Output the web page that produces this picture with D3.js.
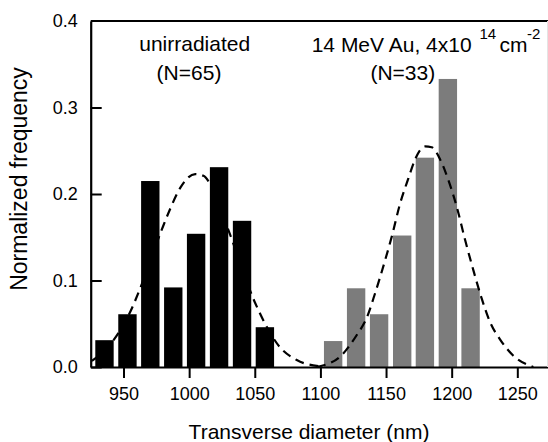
<!DOCTYPE html>
<html>
<head>
<meta charset="utf-8">
<script src="https://cdn.jsdelivr.net/npm/d3@7"></script>
<style>
  body { margin: 0; background: #fff; }
  svg { display: block; font-family: "Liberation Sans", Arial, sans-serif; }
  .tick text { font-size: 18px; fill: #000; }
  .label { font-size: 21px; fill: #000; }
</style>
</head>
<body>
<script>
// bin centres (nm) and normalized frequencies
const unirrCenters = [935.5, 953.0, 970.4, 987.9, 1005.3, 1022.8, 1040.3, 1057.7];
const unirrFreq = [0.031, 0.061, 0.215, 0.092, 0.154, 0.231, 0.169, 0.046];

const irrCenters = [1109.7, 1127.2, 1144.7, 1162.3, 1179.6, 1197.1, 1214.4];
const irrFreq = [0.030, 0.091, 0.061, 0.152, 0.242, 0.333, 0.091];

// dashed fit curves: [nm, frequency]
const unirrFit = [[925.9, 0.007], [942.4, 0.031], [956.4, 0.068], [962.7, 0.091], [979.2, 0.159], [985.6, 0.183], [993.2, 0.207], [1004.6, 0.223], [1010.9, 0.221], [1017.3, 0.208], [1030, 0.158], [1050.3, 0.074], [1057.9, 0.050], [1068, 0.025], [1082, 0.008], [1098.5, 0.001]];
const irrFit = [[1097.3, 0.0], [1115, 0.012], [1127.7, 0.037], [1135.3, 0.057], [1141.6, 0.085], [1149.2, 0.123], [1154.4, 0.151], [1160.7, 0.189], [1167, 0.218], [1172.1, 0.240], [1179.7, 0.255], [1184.8, 0.254], [1191.2, 0.240], [1197.5, 0.216], [1203.9, 0.185], [1210.2, 0.147], [1216.5, 0.112], [1222.9, 0.079], [1229.2, 0.052], [1236.8, 0.032], [1247, 0.013], [1262.2, 0.0]];

const xTicks = [950, 1000, 1050, 1100, 1150, 1200, 1250];
const yTicks = [0.0, 0.1, 0.2, 0.3, 0.4];

const width = 548, height = 442;
const plot = { left: 90.7, right: 547.5, top: 21, bottom: 367 };
const barWidthNm = 14;

const svg = d3.select("body")
  .append("svg")
  .attr("width", width)
  .attr("height", height);

const x = d3.scaleLinear().domain([925, 1273]).range([plot.left, plot.right]);
const y = d3.scaleLinear().domain([0, 0.4]).range([plot.bottom, plot.top]);

// bars
const drawBars = (centers, freqs, color) => {
  svg.append("g")
    .selectAll("rect")
    .data(centers)
    .enter()
    .append("rect")
    .attr("x", (d) => x(d - barWidthNm / 2))
    .attr("y", (d, i) => y(freqs[i]))
    .attr("width", (d) => x(d + barWidthNm / 2) - x(d - barWidthNm / 2))
    .attr("height", (d, i) => y(0) - y(freqs[i]))
    .style("fill", color);
};
drawBars(unirrCenters, unirrFreq, "#000");
drawBars(irrCenters, irrFreq, "#7c7c7c");

// fit curves
const line = d3.line()
  .x((d) => x(d[0]))
  .y((d) => y(d[1]))
  .curve(d3.curveMonotoneX);

[unirrFit, irrFit].forEach((pts) => {
  svg.append("path")
    .attr("d", line(pts))
    .attr("fill", "none")
    .attr("stroke", "#000")
    .attr("stroke-width", 2.2)
    .attr("stroke-dasharray", "9,6");
});

// axes
const xAxis = d3.axisBottom(x)
  .tickValues(xTicks)
  .tickFormat(d3.format("d"))
  .tickSize(11)
  .tickSizeOuter(0)
  .tickPadding(9);

const yAxis = d3.axisLeft(y)
  .tickValues(yTicks)
  .tickFormat(d3.format(".1f"))
  .tickSize(-11)
  .tickSizeOuter(0)
  .tickPadding(13);

const xAxisG = svg.append("g")
  .attr("transform", `translate(0, ${plot.bottom})`)
  .call(xAxis);

const yAxisG = svg.append("g")
  .attr("transform", `translate(${plot.left}, 0)`)
  .call(yAxis);

[xAxisG, yAxisG].forEach((g) => {
  g.select(".domain").attr("stroke", "#000").attr("stroke-width", 2.2);
  g.selectAll(".tick line").attr("stroke", "#000").attr("stroke-width", 2);
  g.selectAll(".tick text").attr("font-family", null).attr("font-size", null);
});
yAxisG.selectAll(".tick").filter((d) => d === 0.4).select("line").remove();

// frame: top line and faint right edge
svg.append("line")
  .attr("x1", plot.left).attr("x2", width)
  .attr("y1", plot.top).attr("y2", plot.top)
  .attr("stroke", "#000").attr("stroke-width", 2.2);
svg.append("line")
  .attr("x1", plot.right).attr("x2", plot.right)
  .attr("y1", plot.top).attr("y2", plot.bottom)
  .attr("stroke", "#e4e4e4").attr("stroke-width", 1);

// axis titles
svg.append("text")
  .attr("class", "label")
  .attr("text-anchor", "middle")
  .attr("transform", `translate(309, 439)`)
  .text("Transverse diameter (nm)");

svg.append("text")
  .attr("class", "label")
  .attr("text-anchor", "middle")
  .style("font-size", "23px")
  .attr("transform", `translate(27, 179)rotate(-90)`)
  .text("Normalized frequency");

// annotations
svg.append("text")
  .attr("class", "label")
  .attr("text-anchor", "middle")
  .attr("x", 194.7).attr("y", 50.5)
  .text("unirradiated");

svg.append("text")
  .attr("class", "label")
  .attr("text-anchor", "middle")
  .attr("x", 189).attr("y", 79.5)
  .text("(N=65)");

const irrLabel = svg.append("text")
  .attr("class", "label")
  .attr("y", 51.5);
irrLabel.append("tspan").attr("x", 311.7).text("14 MeV Au, 4x10");
irrLabel.append("tspan").attr("x", 479.5).attr("y", 39).style("font-size", "15px").text("14");
irrLabel.append("tspan").attr("x", 499.5).attr("y", 51.5).text("cm");
irrLabel.append("tspan").attr("x", 527).attr("y", 39).style("font-size", "15px").text("-2");

svg.append("text")
  .attr("class", "label")
  .attr("text-anchor", "middle")
  .attr("x", 402.8).attr("y", 79.5)
  .text("(N=33)");
</script>
</body>
</html>
